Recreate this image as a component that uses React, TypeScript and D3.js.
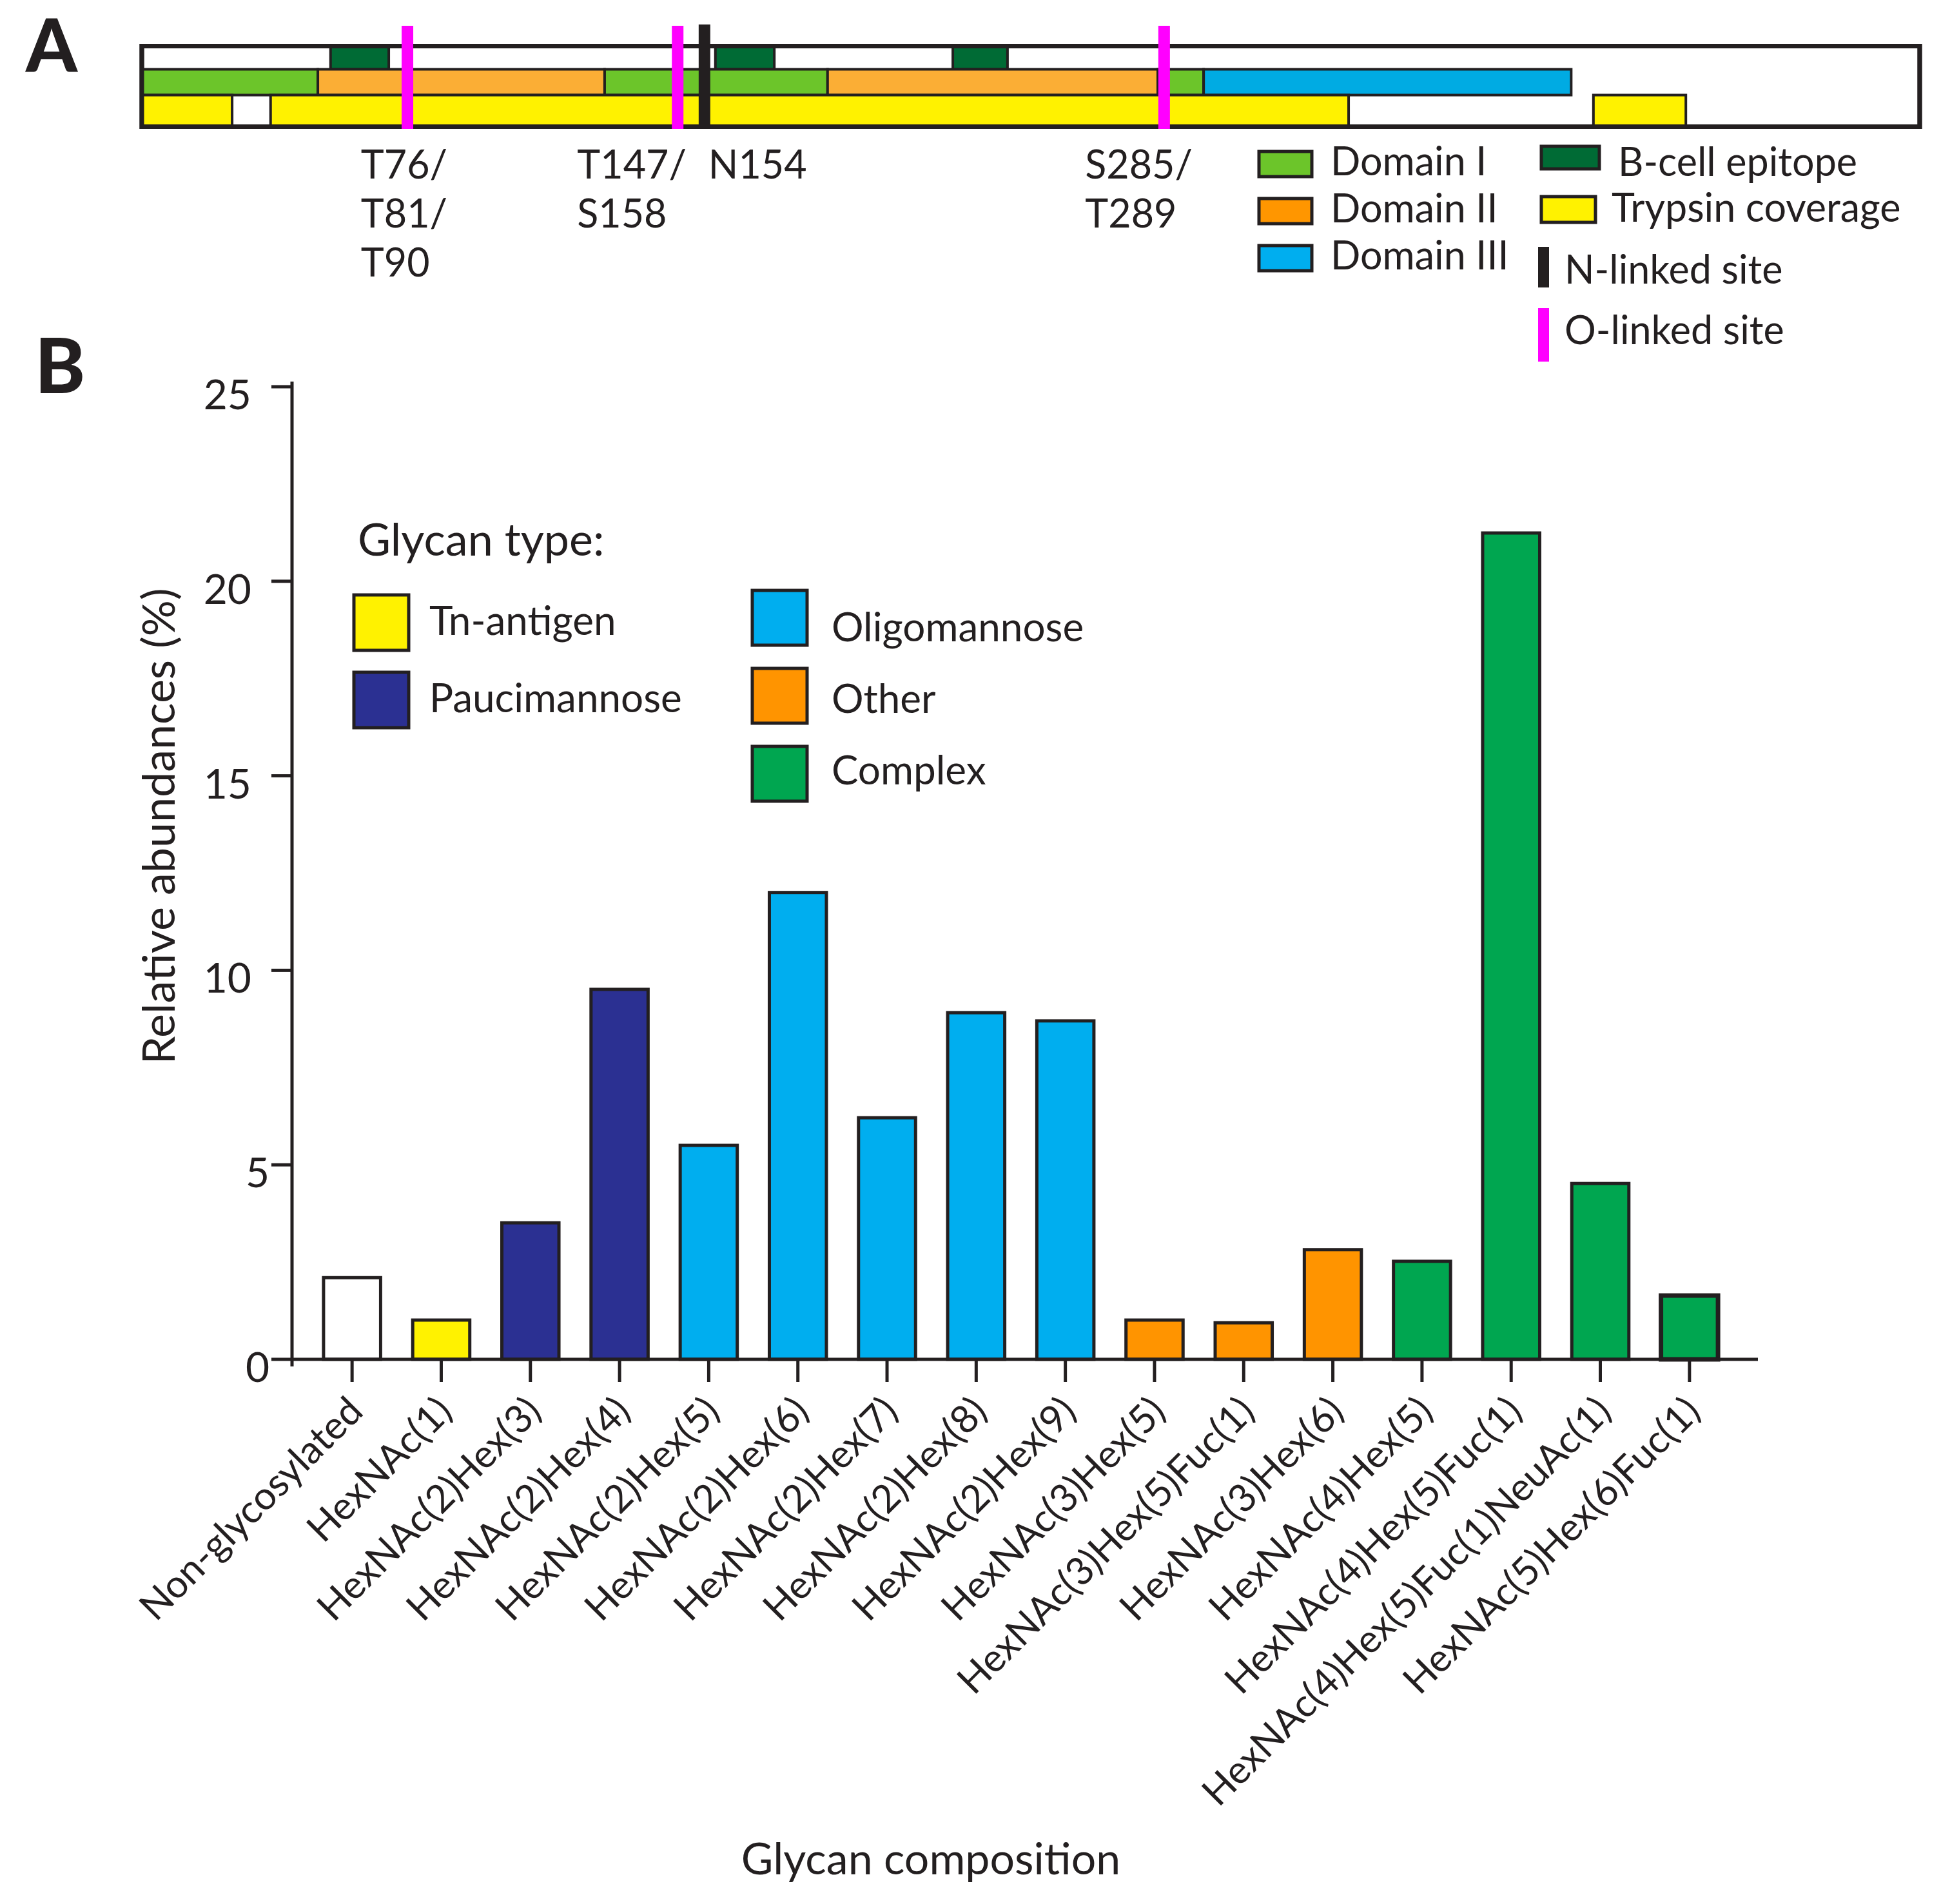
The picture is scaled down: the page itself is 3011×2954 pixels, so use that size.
import React from 'react';
import * as d3 from 'd3';

const W = 3011;
const H = 2954;
const FONT = 'Lato, "Noto Sans", sans-serif';

// ---------- Panel A data (positions along the protein, residue units) ----------
const proteinLength = 504;
const domainStarts = [0, 49.9, 131.2, 194.4, 288.0, 301.0];
const domainEnds = [49.9, 131.2, 194.4, 288.0, 301.0, 405.2];
const domainTypes = ['I', 'II', 'I', 'II', 'I', 'III'];
const epitopeStarts = [53.5, 162.6, 229.9];
const epitopeEnds = [70.0, 179.3, 245.4];
const trypsinStarts = [0, 36.5, 411.5];
const trypsinEnds = [25.6, 342.1, 437.7];
const sitePositions = [75.3, 151.9, 159.5, 289.8];
const siteTypes = ['O', 'O', 'N', 'O'];
const siteLabelPositions = [62.1, 123.4, 160.6, 267.4];
const siteLabels = [['T76/', 'T81/', 'T90'], ['T147/', 'S158'], ['N154'], ['S285/', 'T289']];

// ---------- Panel B data ----------
const categories = [
  'Non-glycosylated',
  'HexNAc(1)',
  'HexNAc(2)Hex(3)',
  'HexNAc(2)Hex(4)',
  'HexNAc(2)Hex(5)',
  'HexNAc(2)Hex(6)',
  'HexNAc(2)Hex(7)',
  'HexNAc(2)Hex(8)',
  'HexNAc(2)Hex(9)',
  'HexNAc(3)Hex(5)',
  'HexNAc(3)Hex(5)Fuc(1)',
  'HexNAc(3)Hex(6)',
  'HexNAc(4)Hex(5)',
  'HexNAc(4)Hex(5)Fuc(1)',
  'HexNAc(4)Hex(5)Fuc(1)NeuAc(1)',
  'HexNAc(5)Hex(6)Fuc(1)',
];
const abundances = [2.1, 1.01, 3.51, 9.51, 5.5, 12.0, 6.21, 8.91, 8.7, 1.01, 0.94, 2.82, 2.52, 21.24, 4.52, 1.64];
const glycanTypes = [
  'none', 'tn', 'pauci', 'pauci', 'oligo', 'oligo', 'oligo', 'oligo', 'oligo',
  'other', 'other', 'other', 'complex', 'complex', 'complex', 'complex',
];
const yTicks = [0, 5, 10, 15, 20, 25];
const legendTypesCol1 = ['tn', 'pauci'];
const legendTypesCol2 = ['oligo', 'other', 'complex'];
const legendNames: Record<string, string> = {
  tn: 'Tn-antigen',
  pauci: 'Paucimannose',
  oligo: 'Oligomannose',
  other: 'Other',
  complex: 'Complex',
};

const glycanColor: Record<string, string> = {
  none: '#ffffff',
  tn: '#fff200',
  pauci: '#2b3092',
  oligo: '#00aeef',
  other: '#ff9400',
  complex: '#00a650',
};
const domainColor: Record<string, string> = {
  I: '#6cc52a',
  II: '#fbae35',
  III: '#00abe3',
};
const domainLegendColor: Record<string, string> = {
  I: '#6cc52a',
  II: '#ff9600',
  III: '#00aeef',
};
const EPITOPE = '#006b35';
const YELLOW = '#fff200';
const MAGENTA = '#ff00ff';

function PanelA() {
  const x = d3.scaleLinear().domain([0, proteinLength]).range([220, 2978]);
  const boxTop = 71.5;
  const boxBottom = 196.5;
  const row1 = 107.5;
  const row2 = 147.5;
  return (
    <g>
      <text x={40} y={112} fontFamily={FONT} fontWeight={900} fontSize={114} fill="#231f20">A</text>
      <rect x={x(0)} y={boxTop} width={x(proteinLength) - x(0)} height={boxBottom - boxTop}
        fill="#fff" stroke="#231f20" strokeWidth={7} />
      {epitopeStarts.map((s, i) => (
        <rect key={'ep' + i} x={x(s)} y={boxTop} width={x(epitopeEnds[i]) - x(s)} height={row1 - boxTop}
          fill={EPITOPE} stroke="#231f20" strokeWidth={4} />
      ))}
      {domainStarts.map((s, i) => (
        <rect key={'dm' + i} x={x(s)} y={row1} width={x(domainEnds[i]) - x(s)} height={row2 - row1}
          fill={domainColor[domainTypes[i]]} stroke="#231f20" strokeWidth={4} />
      ))}
      {trypsinStarts.map((s, i) => (
        <rect key={'tr' + i} x={x(s)} y={row2} width={x(trypsinEnds[i]) - x(s)} height={boxBottom - row2}
          fill={YELLOW} stroke="#231f20" strokeWidth={4} />
      ))}
      <rect x={x(0)} y={boxTop} width={x(proteinLength) - x(0)} height={boxBottom - boxTop}
        fill="none" stroke="#231f20" strokeWidth={7} />
      {sitePositions.map((p, i) => (
        <rect key={'site' + i} x={x(p) - 9} y={siteTypes[i] === 'O' ? 40 : 38} width={18}
          height={siteTypes[i] === 'O' ? 160 : 159}
          fill={siteTypes[i] === 'O' ? MAGENTA : '#231f20'} />
      ))}
      {siteLabels.map((lines, i) => (
        <text key={'lab' + i} fontFamily={FONT} fontSize={61} fill="#231f20">
          {lines.map((l, j) => (
            <tspan key={j} x={x(siteLabelPositions[i])} y={277 + j * 76}>{l}</tspan>
          ))}
        </text>
      ))}
      {/* Legend */}
      {['I', 'II', 'III'].map((d, i) => (
        <g key={'ld' + d}>
          <rect x={1953} y={235 + i * 73} width={82} height={39} fill={domainLegendColor[d]} stroke="#231f20" strokeWidth={5} />
          <text x={2064} y={272 + i * 73} fontFamily={FONT} fontSize={61} fill="#231f20">{'Domain ' + d}</text>
        </g>
      ))}
      <rect x={2391} y={227} width={90} height={35} fill={EPITOPE} stroke="#231f20" strokeWidth={5} />
      <text x={2510} y={273} fontFamily={FONT} fontSize={61} fill="#231f20">B-cell epitope</text>
      <rect x={2391} y={305} width={84} height={40} fill={YELLOW} stroke="#231f20" strokeWidth={5} />
      <text x={2500} y={344} fontFamily={FONT} fontSize={61} fill="#231f20">Trypsin coverage</text>
      <rect x={2386} y={383} width={17} height={63} fill="#231f20" />
      <text x={2427} y={440} fontFamily={FONT} fontSize={61} fill="#231f20">N-linked site</text>
      <rect x={2386} y={478} width={17} height={83} fill={MAGENTA} />
      <text x={2427} y={534} fontFamily={FONT} fontSize={61} fill="#231f20">O-linked site</text>
    </g>
  );
}

function PanelB() {
  const y = d3.scaleLinear().domain([0, 25]).range([2109, 600]);
  const xb = d3.scaleBand<string>().domain(categories).range([477, 2690]).paddingInner(0.36).paddingOuter(0.18);
  const axisX = 453;
  const axisY = y(0);
  const xEnd = 2727;
  const ink = '#231f20';
  return (
    <g>
      <text x={54} y={610} fontFamily={FONT} fontWeight={900} fontSize={118} fill={ink}>B</text>
      {/* bars */}
      {categories.map((c, i) => (
        <rect key={c} x={xb(c)} y={y(abundances[i])} width={xb.bandwidth()} height={y(0) - y(abundances[i])}
          fill={glycanColor[glycanTypes[i]]} stroke={ink} strokeWidth={i === categories.length - 1 ? 7 : 5} />
      ))}
      {/* y axis */}
      <line x1={axisX} x2={axisX} y1={592} y2={2120} stroke={ink} strokeWidth={5} />
      {yTicks.map((t) => (
        <g key={'yt' + t}>
          <line x1={421} x2={axisX} y1={y(t)} y2={y(t)} stroke={ink} strokeWidth={5} />
          <text x={String(t).length > 1 ? 390 : 418} y={y(t) + 35} textAnchor="end" fontFamily={FONT}
            fontSize={64} fill={ink}>{t}</text>
        </g>
      ))}
      {/* x axis */}
      <line x1={axisX} x2={xEnd} y1={axisY} y2={axisY} stroke={ink} strokeWidth={5} />
      {categories.map((c) => {
        const cx = (xb(c) as number) + xb.bandwidth() / 2;
        return (
          <g key={'xt' + c}>
            <line x1={cx} x2={cx} y1={axisY} y2={axisY + 35} stroke={ink} strokeWidth={5} />
            <text transform={`translate(${cx + 20},${axisY + 84}) rotate(-45)`} textAnchor="end"
              fontFamily={FONT} fontSize={60} fill={ink}>{c}</text>
          </g>
        );
      })}
      {/* axis titles */}
      <text transform={`translate(271,1282) rotate(-90)`} textAnchor="middle" fontFamily={FONT} fontSize={70} fill={ink}>
        Relative abundances (%)
      </text>
      <text x={1444} y={2908} textAnchor="middle" fontFamily={FONT} fontSize={68} fill={ink}>Glycan composition</text>
      {/* legend */}
      <text x={555} y={862} fontFamily={FONT} fontSize={70} fill={ink}>Glycan type:</text>
      {legendTypesCol1.map((t, i) => (
        <g key={'lg1' + t}>
          <rect x={549} y={923 + i * 120} width={85} height={86} fill={glycanColor[t]} stroke={ink} strokeWidth={5} />
          <text x={666} y={985 + i * 120} fontFamily={FONT} fontSize={62} fill={ink}>{legendNames[t]}</text>
        </g>
      ))}
      {legendTypesCol2.map((t, i) => (
        <g key={'lg2' + t}>
          <rect x={1167} y={916 + i * 121} width={85} height={85} fill={glycanColor[t]} stroke={ink} strokeWidth={5} />
          <text x={1290} y={995 + i * 111} fontFamily={FONT} fontSize={62} fill={ink}>{legendNames[t]}</text>
        </g>
      ))}
    </g>
  );
}

export default function App() {
  return (
    <svg width={W} height={H} viewBox={`0 0 ${W} ${H}`}
      style={{ position: 'absolute', left: 0, top: 0, background: '#fff', display: 'block' }}>
      <rect x={0} y={0} width={W} height={H} fill="#fff" />
      <PanelA />
      <PanelB />
    </svg>
  );
}
